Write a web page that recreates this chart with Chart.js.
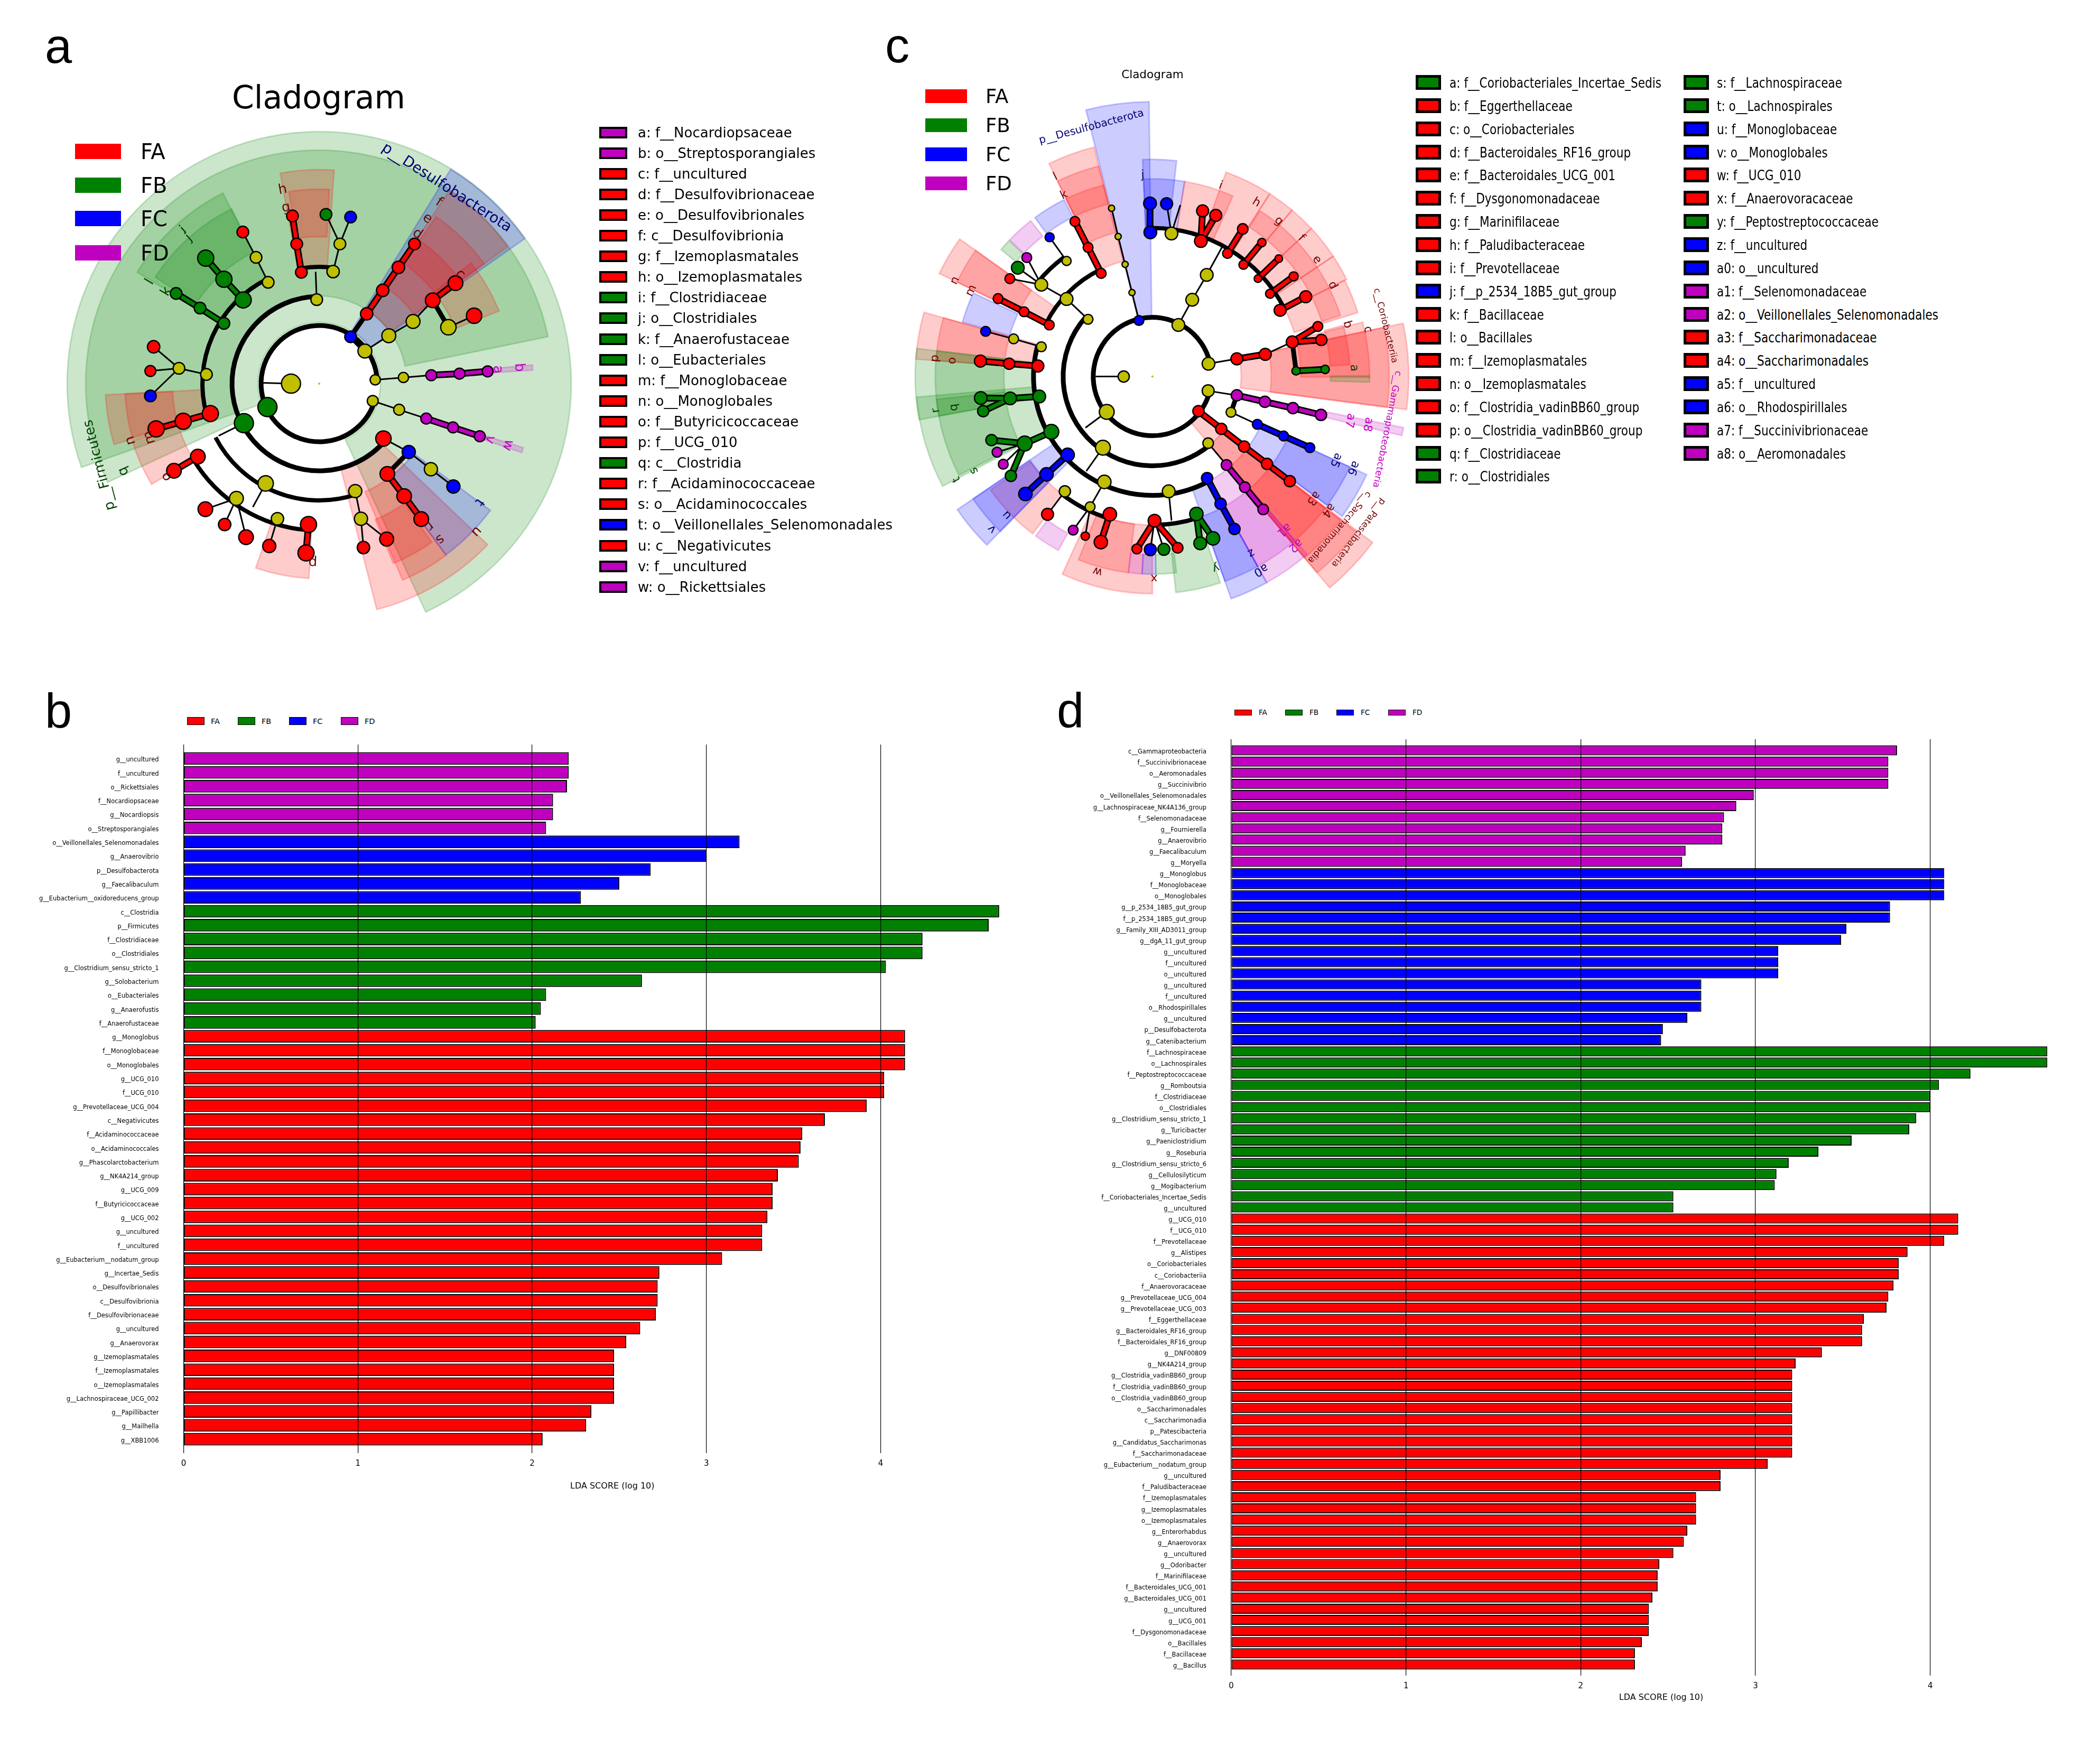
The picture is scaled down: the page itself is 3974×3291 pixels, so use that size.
<!DOCTYPE html>
<html>
<head>
<meta charset="utf-8">
<title>Cladograms and LDA scores</title>
<script src="https://cdn.jsdelivr.net/npm/chart.js@4/dist/chart.umd.min.js"></script>
<style>
  html, body { margin: 0; background: #fff; }
  #page { position: relative; width: 3974px; height: 3291px; overflow: hidden; font-family: "DejaVu Sans", sans-serif; color: #000; }
  #page canvas { position: absolute; }
  .txt { position: absolute; white-space: pre; line-height: 1; }
  .swatch { position: absolute; box-sizing: border-box; }
</style>
</head>
<body>
<div id="page">
  <canvas id="panelA" style="left:50px;top:30px" width="1100" height="1180"></canvas>
  <canvas id="panelC" style="left:1660px;top:30px" width="1060" height="1150"></canvas>
  <canvas id="panelB" style="left:0;top:1380px" width="1970" height="1470"></canvas>
  <canvas id="panelD" style="left:2000px;top:1370px" width="1957" height="1871"></canvas>
</div>
<script>
const groups = ["FA", "FB", "FC", "FD"];
const groupColors = { FA: "#ff0000", FB: "#008000", FC: "#0000ff", FD: "#bf00bf" };

// panel b
const bTaxa = [
  "g__uncultured", "f__uncultured", "o__Rickettsiales", "f__Nocardiopsaceae", "g__Nocardiopsis", "o__Streptosporangiales",
  "o__Veillonellales_Selenomonadales", "g__Anaerovibrio", "p__Desulfobacterota", "g__Faecalibaculum", "g__Eubacterium__oxidoreducens_group",
  "c__Clostridia", "p__Firmicutes", "f__Clostridiaceae", "o__Clostridiales", "g__Clostridium_sensu_stricto_1", "g__Solobacterium", "o__Eubacteriales", "g__Anaerofustis", "f__Anaerofustaceae",
  "g__Monoglobus", "f__Monoglobaceae", "o__Monoglobales", "g__UCG_010", "f__UCG_010", "g__Prevotellaceae_UCG_004", "c__Negativicutes", "f__Acidaminococcaceae", "o__Acidaminococcales", "g__Phascolarctobacterium",
  "g__NK4A214_group", "g__UCG_009", "f__Butyricicoccaceae", "g__UCG_002", "g__uncultured", "f__uncultured", "g__Eubacterium__nodatum_group", "g__Incertae_Sedis", "o__Desulfovibrionales", "c__Desulfovibrionia",
  "f__Desulfovibrionaceae", "g__uncultured", "g__Anaerovorax", "g__Izemoplasmatales", "f__Izemoplasmatales", "o__Izemoplasmatales", "g__Lachnospiraceae_UCG_002", "g__Papillibacter", "g__Mailhella", "g__XBB1006"
];
const bLda = [
  2.21, 2.21, 2.2, 2.12, 2.12, 2.08,
  3.19, 3.0, 2.68, 2.5, 2.28,
  4.68, 4.62, 4.24, 4.24, 4.03, 2.63, 2.08, 2.05, 2.02,
  4.14, 4.14, 4.14, 4.02, 4.02, 3.92, 3.68, 3.55, 3.54, 3.53,
  3.41, 3.38, 3.38, 3.35, 3.32, 3.32, 3.09, 2.73, 2.72, 2.72,
  2.71, 2.62, 2.54, 2.47, 2.47, 2.47, 2.47, 2.34, 2.31, 2.06
];
const bGroupOrder = ["FD", "FC", "FB", "FA"];
const bGroupCounts = [6, 5, 9, 30];

// panel d
const dTaxa = [
  "c__Gammaproteobacteria", "f__Succinivibrionaceae", "o__Aeromonadales", "g__Succinivibrio", "o__Veillonellales_Selenomonadales", "g__Lachnospiraceae_NK4A136_group", "f__Selenomonadaceae", "g__Fournierella", "g__Anaerovibrio", "g__Faecalibaculum", "g__Moryella",
  "g__Monoglobus", "f__Monoglobaceae", "o__Monoglobales", "g__p_2534_18B5_gut_group", "f__p_2534_18B5_gut_group", "g__Family_XIII_AD3011_group", "g__dgA_11_gut_group", "g__uncultured", "f__uncultured", "o__uncultured", "g__uncultured", "f__uncultured", "o__Rhodospirillales", "g__uncultured", "p__Desulfobacterota", "g__Catenibacterium",
  "f__Lachnospiraceae", "o__Lachnospirales", "f__Peptostreptococcaceae", "g__Romboutsia", "f__Clostridiaceae", "o__Clostridiales", "g__Clostridium_sensu_stricto_1", "g__Turicibacter", "g__Paeniclostridium", "g__Roseburia", "g__Clostridium_sensu_stricto_6", "g__Cellulosilyticum", "g__Mogibacterium", "f__Coriobacteriales_Incertae_Sedis", "g__uncultured",
  "g__UCG_010", "f__UCG_010", "f__Prevotellaceae", "g__Alistipes", "o__Coriobacteriales", "c__Coriobacteriia", "f__Anaerovoracaceae", "g__Prevotellaceae_UCG_004", "g__Prevotellaceae_UCG_003", "f__Eggerthellaceae",
  "g__Bacteroidales_RF16_group", "f__Bacteroidales_RF16_group", "g__DNF00809", "g__NK4A214_group", "g__Clostridia_vadinBB60_group", "f__Clostridia_vadinBB60_group", "o__Clostridia_vadinBB60_group", "o__Saccharimonadales", "c__Saccharimonadia", "p__Patescibacteria",
  "g__Candidatus_Saccharimonas", "f__Saccharimonadaceae", "g__Eubacterium__nodatum_group", "g__uncultured", "f__Paludibacteraceae", "f__Izemoplasmatales", "g__Izemoplasmatales", "o__Izemoplasmatales", "g__Enterorhabdus", "g__Anaerovorax",
  "g__uncultured", "g__Odoribacter", "f__Marinifilaceae", "f__Bacteroidales_UCG_001", "g__Bacteroidales_UCG_001", "g__uncultured", "g__UCG_001", "f__Dysgonomonadaceae", "o__Bacillales", "f__Bacillaceae", "g__Bacillus"
];
const dLda = [
  3.81, 3.76, 3.76, 3.76, 2.99, 2.89, 2.82, 2.81, 2.81, 2.6, 2.58,
  4.08, 4.08, 4.08, 3.77, 3.77, 3.52, 3.49, 3.13, 3.13, 3.13, 2.69, 2.69, 2.69, 2.61, 2.47, 2.46,
  4.67, 4.67, 4.23, 4.05, 4.0, 4.0, 3.92, 3.88, 3.55, 3.36, 3.19, 3.12, 3.11, 2.53, 2.53,
  4.16, 4.16, 4.08, 3.87, 3.82, 3.82, 3.79, 3.76, 3.75, 3.62,
  3.61, 3.61, 3.38, 3.23, 3.21, 3.21, 3.21, 3.21, 3.21, 3.21,
  3.21, 3.21, 3.07, 2.8, 2.8, 2.66, 2.66, 2.66, 2.61, 2.59,
  2.53, 2.45, 2.44, 2.44, 2.41, 2.39, 2.39, 2.39, 2.35, 2.31, 2.31
];
const dGroupOrder = ["FD", "FC", "FB", "FA"];
const dGroupCounts = [11, 16, 15, 41];

// panel a key
const aKeyNames = [
  "a: f__Nocardiopsaceae", "b: o__Streptosporangiales", "c: f__uncultured", "d: f__Desulfovibrionaceae", "e: o__Desulfovibrionales", "f: c__Desulfovibrionia",
  "g: f__Izemoplasmatales", "h: o__Izemoplasmatales", "i: f__Clostridiaceae", "j: o__Clostridiales", "k: f__Anaerofustaceae", "l: o__Eubacteriales",
  "m: f__Monoglobaceae", "n: o__Monoglobales", "o: f__Butyricicoccaceae", "p: f__UCG_010", "q: c__Clostridia", "r: f__Acidaminococcaceae",
  "s: o__Acidaminococcales", "t: o__Veillonellales_Selenomonadales", "u: c__Negativicutes", "v: f__uncultured", "w: o__Rickettsiales"
];
const aKeyGroups = ["FD", "FD", "FA", "FA", "FA", "FA", "FA", "FA", "FB", "FB", "FB", "FB", "FA", "FA", "FA", "FA", "FB", "FA", "FA", "FC", "FA", "FD", "FD"];

// panel c key
const cKeyNames = [
  "a: f__Coriobacteriales_Incertae_Sedis", "b: f__Eggerthellaceae", "c: o__Coriobacteriales", "d: f__Bacteroidales_RF16_group", "e: f__Bacteroidales_UCG_001", "f: f__Dysgonomonadaceae",
  "g: f__Marinifilaceae", "h: f__Paludibacteraceae", "i: f__Prevotellaceae", "j: f__p_2534_18B5_gut_group", "k: f__Bacillaceae", "l: o__Bacillales",
  "m: f__Izemoplasmatales", "n: o__Izemoplasmatales", "o: f__Clostridia_vadinBB60_group", "p: o__Clostridia_vadinBB60_group", "q: f__Clostridiaceae", "r: o__Clostridiales",
  "s: f__Lachnospiraceae", "t: o__Lachnospirales", "u: f__Monoglobaceae", "v: o__Monoglobales", "w: f__UCG_010", "x: f__Anaerovoracaceae",
  "y: f__Peptostreptococcaceae", "z: f__uncultured", "a0: o__uncultured", "a1: f__Selenomonadaceae", "a2: o__Veillonellales_Selenomonadales", "a3: f__Saccharimonadaceae",
  "a4: o__Saccharimonadales", "a5: f__uncultured", "a6: o__Rhodospirillales", "a7: f__Succinivibrionaceae", "a8: o__Aeromonadales"
];
const cKeyGroups = [
  "FB", "FA", "FA", "FA", "FA", "FA", "FA", "FA", "FA", "FC", "FA", "FA", "FA", "FA", "FA", "FA", "FB", "FB",
  "FB", "FB", "FC", "FC", "FA", "FA", "FB", "FC", "FC", "FD", "FD", "FA", "FA", "FC", "FC", "FD", "FD"
];

const aNodesYellow = [[790,930,2],[711,930,25],[783,711,15],[829,638,16],[848,566,15],[647,666,15],[613,601,15],[474,906,15],[397,890,15],[947,920,13],[1026,914,13],[940,975,14],[1014,998,14],[918,845,18],[985,805,18],[1053,768,18],[1152,783,20],[1103,1153,17],[891,1210,17],[907,1282,17],[640,1190,20],[558,1229,18],[673,1282,16]];
const aNodesRed = [[740,640,15],[727,566,15],[715,493,15],[576,535,15],[923,748,16],[968,687,16],[1012,627,16],[1057,566,15],[1108,713,19],[1172,668,19],[1224,753,20],[970,1073,20],[981,1165,19],[1028,1223,19],[1076,1283,19],[979,1335,18],[914,1357,16],[760,1297,21],[753,1371,21],[650,1353,17],[585,1330,19],[525,1297,16],[471,1257,19],[450,1120,19],[383,1157,19],[485,1008,21],[409,1028,21],[333,1048,21],[326,834,16],[317,897,14]];
const aNodesGreen = [[809,489,15],[577,712,21],[523,658,21],[472,603,21],[523,773,15],[456,733,15],[389,695,15],[645,991,25],[579,1033,25]];
const aNodesBlue = [[878,496,15],[878,808,15],[1041,1108,17],[1166,1198,17],[317,962,15]];
const aNodesPurple = [[1104,908,14],[1183,904,14],[1262,898,14],[1090,1021,14],[1165,1044,14],[1240,1067,14]];
const aEdgesThin = [
  [[631,928],[711,930]], [[783,711],[780,640]], [[829,638],[848,566],[809,489]], [[848,566],[878,496]], [[918,845],[985,805],[1053,768],[1108,713]],
  [[1152,783],[1224,753]], [[947,920],[1026,914],[1104,908]], [[940,975],[1014,998],[1090,1021]], [[970,1073],[1041,1108]], [[1041,1108],[1103,1153],[1166,1198]],
  [[891,1210],[907,1282],[979,1335]], [[907,1282],[914,1357]], [[673,1282],[650,1353]], [[640,1190],[605,1250]], [[558,1229],[471,1257]], [[558,1229],[525,1297]],
  [[558,1229],[585,1330]], [[474,906],[397,890],[326,834]], [[397,890],[317,897]], [[397,890],[317,962]], [[647,666],[613,601],[576,535]], [[579,1033],[510,1065]]
];
const aEdgesThick = [[[1108,713],[1152,783]], [[1041,1108],[981,1165]], [[878,808],[923,748]], [[878,808],[918,845]]];
const aEdgesRed = [[[740,640],[727,566],[715,493]], [[923,748],[968,687],[1012,627],[1057,566]], [[1108,713],[1172,668]], [[981,1165],[1028,1223],[1076,1283]], [[760,1297],[753,1371]], [[450,1120],[383,1157]], [[485,1008],[409,1028],[333,1048]]];
const aEdgesGreen = [[[523,773],[456,733],[389,695]], [[577,712],[523,658],[472,603]]];
const aEdgesBlue = [];
const aEdgesPurple = [[[1104,908],[1183,904],[1262,898]], [[1090,1021],[1165,1044],[1240,1067]]];
// ring arcs: radius, from angle, to angle (degrees, anticlockwise), weight
const aArcs = [[110,3,345,9],[165,91.7,319.5,9],[221,116.6,195.3,8],[221,83,99.1,8],[221,207.4,288.4,8],[278,211,265.6,8]];
// clade wedges: from angle, to angle, inner radius, outer radius, group
const aWedges = [
  [-65,199.4,116,477,"FB"], [11.6,205,166,442,"FB"], [35.2,58.5,118,476,"FC"], [36,56,166,441,"FA"], [36,55,222,386,"FA"], [36,55,278,331,"FA"],
  [86,100.5,222,405,"FA"], [87,99,278,368,"FA"], [22,38.5,278,367,"FA"], [116.8,148.5,222,404,"FB"], [116.6,147,278,370,"FB"],
  [183,196.5,222,405,"FA"], [183,196,278,368,"FA"], [197,211,278,370,"FA"], [251,267,278,369,"FA"], [-75.7,-43.7,168,441,"FA"],
  [-67,-53.5,222,404,"FA"], [-67.6,-54.6,278,368,"FA"], [-53.5,-36.5,222,403,"FC"], [3.6,5,330,405,"FD"], [-18.8,-17.4,330,405,"FD"]
];
const aLetters = [
  ["h",688,425,"FA"],["g",697,472,"FA"],["f",1125,458,"FA"],["e",1093,500,"FA"],["d",1065,540,"FA"],["c",1185,645,"FA"],["b",1350,888,"FD"],["a",1290,893,"FD"],
  ["w",1318,1090,"FD"],["v",1268,1075,"FD"],["t",1238,1238,"FC"],["s",1128,1335,"FA"],["r",1100,1300,"FA"],["u",1230,1315,"FA"],["p",772,1395,"FA"],["o",363,1172,"FA"],
  ["n",262,1078,"FA"],["m",315,1070,"FA"],["q",242,1158,"FB"],["j",425,550,"FB"],["i",410,530,"FB"],["l",316,665,"FB"],["k",362,690,"FB"]
];
const aClades = [["p__Desulfobacterota",1147,420,33,"FC",28],["p__Firmicutes",175,1142,-104.5,"FB",26]];

// panel c tree
const cNodesYellow = [[770,935,2],[687,935,15],[845,798,17],[932,901,17],[931,973,16],[638,1029,20],[627,1124,20],[931,1112,14],[817,1240,17],[631,1215,18],[885,731,17],[927,665,17],[825,555,17],[711,712,8],[691,637,8],[671,563,8],[652,488,8],[997,1030,13],[590,1281,13],[517,1240,15],[584,783,13],[522,729,17],[522,628,12],[449,691,17],[449,856,13],[369,835,13]];
const cNodesRed = [[1014,888,16],[1096,876,16],[1174,843,16],[1248,802,13],[1258,838,15],[903,1027,15],[969,1074,15],[1035,1121,15],[1101,1167,15],[1167,1213,15],[910,575,17],[915,495,16],[953,507,16],[987,608,13],[1031,543,14],[1033,638,12],[1086,579,11],[1075,675,10],[1135,622,10],[1110,715,12],[1178,669,12],[1139,759,16],[1213,723,16],[776,1318,17],[725,1393,13],[843,1390,14],[647,1301,18],[621,1375,18],[576,1359,11],[467,1301,16],[439,907,16],[356,901,15],[273,894,16],[472,798,13],[399,763,13],[324,728,13],[622,661,13],[584,592,13],[546,523,13],[358,675,13]];
const cNodesGreen = [[1185,920,11],[1269,916,11],[897,1300,18],[908,1378,17],[945,1365,18],[803,1394,16],[478,1082,20],[401,1113,20],[305,1104,15],[361,1199,15],[443,988,17],[359,993,17],[274,992,17],[281,1027,15],[381,646,17]];
const cNodesBlue = [[731,786,13],[1073,1062,13],[1149,1093,13],[1225,1124,13],[928,1205,15],[967,1273,15],[1007,1340,15],[764,552,17],[763,475,17],[811,476,16],[764,1395,16],[525,1143,18],[464,1195,18],[403,1247,18],[288,815,13],[473,565,12]];
const cNodesPurple = [[1014,985,15],[1095,1002,15],[1176,1019,15],[1257,1037,15],[984,1170,14],[1037,1229,14],[1090,1288,14],[541,1343,13],[321,1136,13],[339,1168,13],[407,619,13]];
const cEdgesThin = [
  [[608,935],[687,935]], [[845,798],[885,731],[927,665],[972,590]], [[731,786],[711,712],[691,637],[671,563],[652,488]], [[932,901],[1014,888]], [[1096,876],[1174,843]], [[931,973],[1014,985]],
  [[997,1030],[1073,1062]], [[931,1112],[984,1170]], [[817,1240],[825,1316]], [[776,1318],[764,1395]], [[776,1318],[803,1394]], [[631,1215],[590,1281]], [[590,1281],[576,1359]], [[590,1281],[541,1343]],
  [[517,1240],[467,1301]], [[627,1124],[580,1185]], [[638,1029],[578,1070]], [[401,1113],[321,1136]], [[401,1113],[339,1168]], [[449,856],[369,835],[288,815]], [[584,783],[522,729],[449,691]],
  [[449,691],[358,675]], [[449,691],[381,646]], [[449,691],[407,619]], [[522,628],[473,565]], [[825,555],[811,476]], [[825,555],[850,481]]
];
const cEdgesThick = [[[1174,843],[1185,920]], [[1014,985],[997,1030]]];
const cEdgesRed = [
  [[1014,888],[1096,876]], [[1174,843],[1248,802]], [[1174,843],[1258,838]], [[903,1027],[969,1074],[1035,1121],[1101,1167],[1167,1213]], [[910,575],[915,495]], [[910,575],[953,507]],
  [[987,608],[1031,543]], [[1033,638],[1086,579]], [[1075,675],[1135,622]], [[1110,715],[1178,669]], [[1139,759],[1213,723]], [[776,1318],[725,1393]], [[776,1318],[843,1390]], [[647,1301],[621,1375]],
  [[439,907],[356,901],[273,894]], [[472,798],[399,763],[324,728]], [[622,661],[584,592],[546,523]]
];
const cEdgesGreen = [[[1185,920],[1269,916]], [[897,1300],[908,1378]], [[897,1300],[945,1365]], [[478,1082],[401,1113],[305,1104]], [[401,1113],[361,1199]], [[443,988],[359,993],[274,992]], [[359,993],[281,1027]]];
const cEdgesBlue = [[[1073,1062],[1149,1093],[1225,1124]], [[928,1205],[967,1273],[1007,1340]], [[764,552],[763,475]], [[525,1143],[464,1195],[403,1247]]];
const cEdgesPurple = [[[1014,985],[1095,1002],[1176,1019],[1257,1037]], [[984,1170],[1037,1229],[1090,1288]]];
const cArcs = [[112,12.8,345.6,9],[169,138.4,310,9],[225,116.5,153.5,8],[225,165,298.4,9],[281,27.3,90.8,8],[281,270.8,287.8,8],[281,232.6,252.8,8],[281,126.7,140.5,8]];
const cWedges = [
  [90.7,104,112,520,"FC"], [83.6,92.6,281,411,"FC"], [80.6,92.6,281,374,"FC"],
  [66,80.6,281,374,"FA"], [57.3,70.2,281,411,"FA"], [50,57.3,281,411,"FA"], [43,50,281,411,"FA"], [33.6,43,281,411,"FA"], [26.6,33.6,281,411,"FA"], [17.3,26.6,281,407,"FA"], [18,57,337,374,"FA"],
  [-7.4,12,168,485,"FA"], [-7.5,12,225,448,"FA"], [-0.2,14.5,281,411,"FA"], [3.4,15,337,374,"FA"], [-1.5,0.2,337,411,"FB"],
  [-50,-37,112,522,"FA"], [-50,-37.3,169,485,"FA"], [-50,-37.3,225,448,"FA"], [-50,-37.3,281,411,"FA"],
  [-36.4,-24.6,225,446,"FC"], [-36.4,-24.6,281,411,"FC"], [-61,-49,225,446,"FD"], [-61,-49,281,411,"FD"], [-70.5,-61,225,446,"FC"], [-70.5,-61,281,411,"FC"],
  [-83.8,-71.8,281,411,"FB"], [245.5,270,281,411,"FA"], [248,263,281,374,"FA"], [263,267,337,374,"FD"], [267,271,337,374,"FC"], [271,277,337,374,"FB"],
  [233.8,241.6,337,374,"FD"], [215,232.7,281,374,"FA"], [214.3,225.5,225,447,"FC"], [214.3,225.5,281,411,"FC"],
  [185,207.6,225,448,"FB"], [186,207,281,411,"FB"], [164.3,175.8,225,449,"FA"], [164.3,175.8,281,411,"FA"], [173.2,190.5,225,449,"FB"], [173.2,190.5,281,411,"FB"],
  [144.5,154.2,225,448,"FA"], [144.5,154.2,281,411,"FA"], [155,164,281,374,"FC"], [136.5,140,337,374,"FB"], [128,136.3,337,374,"FD"], [116.5,126.5,337,374,"FC"],
  [104.3,115.9,225,448,"FA"], [104.3,115.9,281,411,"FA"], [104.3,115.9,337,374,"FA"], [-13.3,-11.5,337,485,"FD"]
];
const cLetters = [
  ["j",742,400,"FC"],["i",967,428,"FA"],["h",1070,473,"FA"],["g",1135,522,"FA"],["f",1200,567,"FA"],["e",1245,625,"FA"],["d",1290,693,"FA"],["c",1392,810,"FA"],["b",1333,797,"FA"],["a",1352,912,"FB"],
  ["a7",1340,1052,"FD"],["a8",1392,1062,"FD"],["a5",1300,1157,"FC"],["a6",1350,1178,"FC"],["a4",1278,1290,"FA"],["a3",1235,1258,"FA"],["a2",1183,1383,"FD"],["a1",1150,1342,"FD"],["a0",1083,1448,"FC"],["z",1055,1403,"FC"],
  ["y",953,1443,"FB"],["x",775,1470,"FA"],["w",612,1452,"FA"],["v",307,1340,"FC"],["u",350,1303,"FC"],["t",205,1208,"FB"],["s",255,1185,"FB"],["r",145,1025,"FB"],["q",197,1017,"FB"],["p",142,887,"FA"],
  ["o",192,893,"FA"],["n",200,680,"FA"],["m",247,707,"FA"],["l",490,405,"FA"],["k",515,453,"FA"]
];
const cClades = [
  ["p__Desulfobacterota",594,272,-15,"FC",20], ["c__Coriobacteriia",1443,800,76,"FA",17], ["c__Gammaproteobacteria",1447,1075,101,"FD",17.5],
  ["c__Saccharimonadia",1310,1335,131,"FA",17], ["p__Patescibacteria",1365,1350,127,"FA",17]
];

const labelColors = { FA: "#700000", FB: "#004000", FC: "#000070", FD: "#c000c0" };
const wedgeRgb = { FA: "255,0,0", FB: "0,128,0", FC: "0,0,255", FD: "191,0,191" };
const yellow = "#bfbf00";

const page = document.getElementById("page");

function addText(text, x, y, size, family, extra) {
  const el = document.createElement("div");
  el.className = "txt";
  el.textContent = text;
  el.style.left = x + "px";
  el.style.top = y + "px";
  el.style.fontSize = size + "px";
  if (family) el.style.fontFamily = family;
  if (extra) Object.assign(el.style, extra);
  page.appendChild(el);
  return el;
}

function addSwatch(group, x, y, w, h, border) {
  const el = document.createElement("div");
  el.className = "swatch";
  el.style.left = x + "px";
  el.style.top = y + "px";
  el.style.width = w + "px";
  el.style.height = h + "px";
  el.style.background = groupColors[group];
  if (border) el.style.border = border + "px solid #000";
  page.appendChild(el);
}

// big letters
addText("a", 85, 41, 92, '"Liberation Sans"');
addText("b", 85, 1299, 92, '"Liberation Sans"');
addText("c", 1675, 40, 92, '"Liberation Sans"');
addText("d", 2000, 1298, 92, '"Liberation Sans"');

// cladogram titles
addText("Cladogram", 603, 184, 60, null, { transform: "translate(-50%,-50%)" });
addText("Cladogram", 2181, 141, 21.5, null, { transform: "translate(-50%,-50%)" });

// colour legends
groups.forEach((g, i) => {
  const y = [272, 336, 399, 464][i];
  addSwatch(g, 142, y, 87, 29);
  addText(g, 266, y + 15, 40, null, { transform: "translateY(-50%)" });
  const yc = [169, 224, 279, 334][i];
  addSwatch(g, 1751, yc, 79, 26);
  addText(g, 1865, yc + 13, 37, null, { transform: "translateY(-50%)" });
  const xb = [354, 450, 547, 645][i];
  addSwatch(g, xb, 1357, 33, 15, 1);
  addText(g, xb + 45, 1364.5, 14.5, null, { transform: "translateY(-50%)" });
  const xd = [2336, 2432, 2529, 2627][i];
  addSwatch(g, xd, 1343, 33, 11, 1);
  addText(g, xd + 46, 1348.5, 13.7, null, { transform: "translateY(-50%)" });
});

// letter keys
aKeyNames.forEach((name, i) => {
  const y = 250.5 + i * 39.1;
  addSwatch(aKeyGroups[i], 1134, y - 11, 53, 22, 4);
  addText(name, 1207, y, 26, null, { transform: "translateY(-50%)" });
});
cKeyNames.forEach((name, i) => {
  const col = i < 18 ? 0 : 1;
  const y = 156 + (col ? i - 18 : i) * 43.85;
  addSwatch(cKeyGroups[i], col ? 3186 : 2679, y - 14, 48, 28, 5);
  addText(name, col ? 3249 : 2743, y, 27, null, { transform: "translateY(-50%) scaleX(0.8)", transformOrigin: "left center" });
});

// wedges, rings and letters sit on the scales of the tree chart
const treeLayers = {
  id: "treeLayers",
  beforeDatasetsDraw(chart) {
    const { ctx, scales } = chart;
    const t = chart.options.plugins.treeLayers;
    const cx = scales.x.getPixelForValue(t.center[0]);
    const cy = scales.y.getPixelForValue(t.center[1]);
    ctx.save();
    t.wedges.forEach(([a0, a1, r0, r1, g]) => {
      ctx.beginPath();
      ctx.arc(cx, cy, r1, -a0 * Math.PI / 180, -a1 * Math.PI / 180, true);
      ctx.arc(cx, cy, r0, -a1 * Math.PI / 180, -a0 * Math.PI / 180, false);
      ctx.closePath();
      ctx.fillStyle = "rgba(" + wedgeRgb[g] + ",0.2)";
      ctx.fill();
      ctx.strokeStyle = "rgba(" + wedgeRgb[g] + ",0.2)";
      ctx.lineWidth = 3;
      ctx.stroke();
    });
    ctx.strokeStyle = "#000";
    t.arcs.forEach(([r, a0, a1, w]) => {
      ctx.beginPath();
      ctx.arc(cx, cy, r, -a0 * Math.PI / 180, -a1 * Math.PI / 180, true);
      ctx.lineWidth = w;
      ctx.stroke();
    });
    ctx.restore();
  },
  afterDatasetsDraw(chart) {
    const { ctx, scales } = chart;
    const t = chart.options.plugins.treeLayers;
    const cx = scales.x.getPixelForValue(t.center[0]);
    const cy = scales.y.getPixelForValue(t.center[1]);
    ctx.save();
    ctx.textAlign = "center";
    ctx.textBaseline = "middle";
    t.letters.forEach(([s, x, y, g]) => {
      const px = scales.x.getPixelForValue(x);
      const py = scales.y.getPixelForValue(y);
      ctx.save();
      ctx.translate(px, py);
      ctx.rotate(Math.atan2(py - cy, px - cx) + Math.PI / 2);
      ctx.font = t.letterSize + 'px "DejaVu Sans"';
      ctx.fillStyle = labelColors[g];
      ctx.fillText(s, 0, 0);
      ctx.restore();
    });
    t.clades.forEach(([s, x, y, deg, g, size]) => {
      ctx.save();
      ctx.translate(scales.x.getPixelForValue(x), scales.y.getPixelForValue(y));
      ctx.rotate(deg * Math.PI / 180);
      ctx.font = size + 'px "DejaVu Sans"';
      ctx.fillStyle = labelColors[g];
      ctx.fillText(s, 0, 0);
      ctx.restore();
    });
    ctx.restore();
  }
};

function edgeData(paths) {
  const out = [];
  paths.forEach(path => {
    path.forEach(([x, y]) => out.push({ x, y }));
    out.push({ x: null, y: null });
  });
  return out;
}

function edgeSet(paths, color, width, order) {
  return {
    type: "line", data: edgeData(paths), borderColor: color, borderWidth: width, pointRadius: 0,
    borderCapStyle: "round", spanGaps: false, tension: 0, fill: false, clip: false, order
  };
}

function nodeSet(nodes, color, unitsPerPx) {
  return {
    type: "bubble",
    data: nodes.map(([x, y, r]) => ({ x, y, r: r > 2 ? r / unitsPerPx + 0.5 : r })),
    backgroundColor: color,
    borderColor: "#000",
    // the root dot has no outline
    borderWidth: nodes.map(([, , r]) => (r > 2 ? 2.5 : 0)),
    hoverRadius: 0, clip: false, order: 1
  };
}

function treeChart(id, parts) {
  const unitsPerPx = 1568 / document.getElementById(id).width;
  new Chart(document.getElementById(id), {
    type: "bubble",
    data: {
      datasets: [
        edgeSet(parts.thin, "#000", 3, 5),
        edgeSet(parts.thick, "#000", 9, 5),
        edgeSet([...parts.red, ...parts.green, ...parts.blue, ...parts.purple], "#000", 13, 4),
        edgeSet(parts.red, groupColors.FA, 7, 3),
        edgeSet(parts.green, groupColors.FB, 7, 3),
        edgeSet(parts.blue, groupColors.FC, 7, 3),
        edgeSet(parts.purple, groupColors.FD, 7, 3),
        nodeSet(parts.yellow, yellow, unitsPerPx),
        nodeSet(parts.nodesRed, groupColors.FA, unitsPerPx),
        nodeSet(parts.nodesGreen, groupColors.FB, unitsPerPx),
        nodeSet(parts.nodesBlue, groupColors.FC, unitsPerPx),
        nodeSet(parts.nodesPurple, groupColors.FD, unitsPerPx)
      ]
    },
    options: {
      responsive: false,
      animation: false,
      events: [],
      layout: { padding: 0 },
      scales: {
        x: { type: "linear", display: false, min: 0, max: 1568 },
        y: { type: "linear", display: false, min: 0, max: 1568, reverse: true }
      },
      plugins: {
        legend: { display: false },
        tooltip: { enabled: false },
        treeLayers: { center: parts.center, wedges: parts.wedges, arcs: parts.arcs, letters: parts.letters, clades: parts.clades, letterSize: parts.letterSize }
      }
    },
    plugins: [treeLayers]
  });
}

treeChart("panelA", {
  center: [790, 930], wedges: aWedges, arcs: aArcs, letters: aLetters, clades: aClades, letterSize: 26,
  thin: aEdgesThin, thick: aEdgesThick, red: aEdgesRed, green: aEdgesGreen, blue: aEdgesBlue, purple: aEdgesPurple,
  yellow: aNodesYellow, nodesRed: aNodesRed, nodesGreen: aNodesGreen, nodesBlue: aNodesBlue, nodesPurple: aNodesPurple
});
treeChart("panelC", {
  center: [770, 935], wedges: cWedges, arcs: cArcs, letters: cLetters, clades: cClades, letterSize: 22,
  thin: cEdgesThin, thick: cEdgesThick, red: cEdgesRed, green: cEdgesGreen, blue: cEdgesBlue, purple: cEdgesPurple,
  yellow: cNodesYellow, nodesRed: cNodesRed, nodesGreen: cNodesGreen, nodesBlue: cNodesBlue, nodesPurple: cNodesPurple
});

function barChart(id, taxa, lda, order, counts, opts) {
  const colors = [];
  order.forEach((g, i) => { for (let k = 0; k < counts[i]; k++) colors.push(groupColors[g]); });
  new Chart(document.getElementById(id), {
    type: "bar",
    data: {
      labels: ["", ...taxa, ""],
      datasets: [{
        data: [null, ...lda, null],
        backgroundColor: ["#fff", ...colors, "#fff"],
        borderColor: "#000",
        borderWidth: 2,
        borderSkipped: false,
        categoryPercentage: 1,
        barPercentage: 0.9
      }]
    },
    options: {
      indexAxis: "y",
      responsive: false,
      animation: false,
      events: [],
      layout: { padding: { top: 29 } },
      scales: {
        x: {
          type: "linear", min: 0, max: 4.92,
          afterFit: s => { s.height = opts.axisHeight; s.paddingLeft = 0; s.paddingRight = 0; },
          grid: { color: "#000", lineWidth: 1.2, z: 1, drawTicks: false },
          border: { display: false },
          ticks: { stepSize: 1, includeBounds: false, padding: 11, color: "#000", font: { family: "DejaVu Sans", size: 15 } },
          title: { display: true, text: "LDA SCORE (log 10)", color: "#000", font: { family: "DejaVu Sans", size: 16 }, padding: { top: 0, bottom: opts.titlePad } }
        },
        y: {
          offset: false,
          afterFit: s => { s.width = opts.labelWidth; s.paddingTop = 0; s.paddingBottom = 0; },
          grid: { display: false },
          border: { display: false },
          ticks: { autoSkip: false, padding: 39, labelOffset: 3, color: "#000", font: { family: "DejaVu Sans", size: 11.5 } }
        }
      },
      plugins: { legend: { display: false }, tooltip: { enabled: false } }
    }
  });
}

barChart("panelB", bTaxa, bLda, bGroupOrder, bGroupCounts, { axisHeight: 100, titlePad: 28, labelWidth: 347.5 });
barChart("panelD", dTaxa, dLda, dGroupOrder, dGroupCounts, { axisHeight: 70, titlePad: 19, labelWidth: 330 });
</script>
</body>
</html>
